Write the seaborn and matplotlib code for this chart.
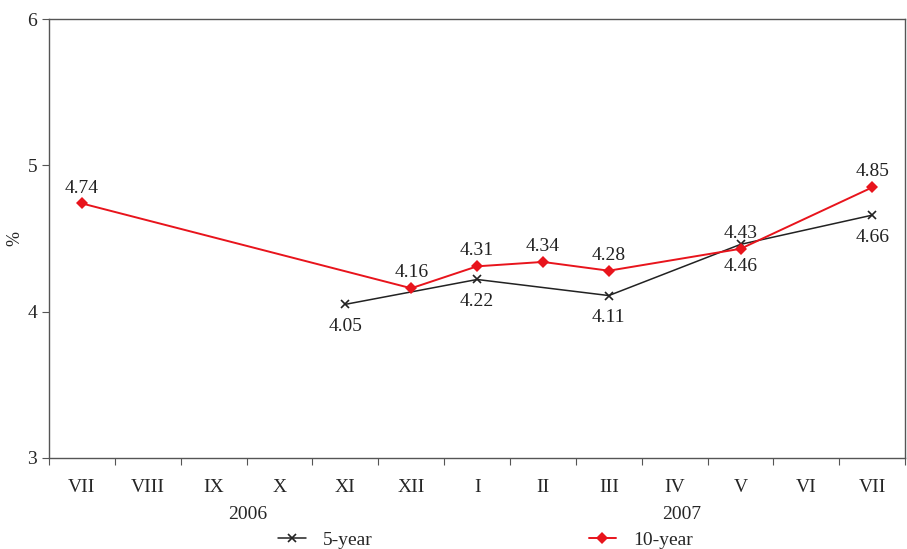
import numpy as np
import pandas as pd
import matplotlib
matplotlib.use("Agg")
import matplotlib.pyplot as plt
import seaborn as sns

# months from VII 2006 to VII 2007
months = ["VII", "VIII", "IX", "X", "XI", "XII", "I", "II", "III", "IV", "V", "VI", "VII"]
five_year = [np.nan, np.nan, np.nan, np.nan, 4.05, np.nan, 4.22, np.nan, 4.11, np.nan, 4.46, np.nan, 4.66]
ten_year = [4.74, np.nan, np.nan, np.nan, np.nan, 4.16, 4.31, 4.34, 4.28, np.nan, 4.43, np.nan, 4.85]
years = ["2006", "2007"]

sns.set_style("white")
plt.rcParams["font.family"] = ["Liberation Serif", "DejaVu Serif"]

df = pd.DataFrame({"pos": np.arange(len(months)), "5-year": five_year, "10-year": ten_year})

fig = plt.figure(figsize=(9.07, 5.49), dpi=100)
ax = fig.add_axes([0.054, 0.166, 0.944, 0.799])

d5 = df.dropna(subset=["5-year"])
d10 = df.dropna(subset=["10-year"])
sns.lineplot(data=d5, x="pos", y="5-year", ax=ax, color="#222222", lw=1.1,
             marker="x", markersize=6, markeredgewidth=1.2, markeredgecolor="#222222",
             label="5-year")
sns.lineplot(data=d10, x="pos", y="10-year", ax=ax, color="#e8141c", lw=1.4,
             marker="D", markersize=6, markeredgewidth=0, markerfacecolor="#e8141c",
             label="10-year")

for x, v in zip(d5["pos"], d5["5-year"]):
    ax.annotate(f"{v:.2f}", (x, v), xytext=(0, -10), textcoords="offset points",
                ha="center", va="top", fontsize=14, color="#222222")
for x, v in zip(d10["pos"], d10["10-year"]):
    ax.annotate(f"{v:.2f}", (x, v), xytext=(0, 5), textcoords="offset points",
                ha="center", va="bottom", fontsize=14, color="#222222")

ax.set_xlim(-0.5, len(months) - 0.5)
ax.set_ylim(3, 6)
ax.set_yticks([3, 4, 5, 6])
ax.set_xticks(np.arange(len(months) + 1) - 0.5)
ax.set_xticklabels([])
ax.set_xticks(np.arange(len(months)), minor=True)
ax.set_xticklabels(months, minor=True)
ax.tick_params(axis="x", which="major", direction="out", length=5, color="#555555", bottom=True)
ax.tick_params(axis="x", which="minor", length=0, pad=15.5, labelsize=14)
ax.tick_params(axis="y", direction="out", length=5, color="#555555", left=True, labelsize=14)
ax.set_xlabel("")
ax.set_ylabel("%", fontsize=13)
ax.yaxis.set_label_coords(-0.03, 0.5)

for s in ax.spines.values():
    s.set_color("#555555")
    s.set_linewidth(1.0)

ax.text(2.52, -0.128, years[0], transform=ax.get_xaxis_transform(), ha="center", va="center", fontsize=14)
ax.text(9.1, -0.128, years[1], transform=ax.get_xaxis_transform(), ha="center", va="center", fontsize=14)

ax.legend(loc="center left", bbox_to_anchor=(0.268, -0.187), ncol=2, frameon=False,
          fontsize=14, columnspacing=11.1, handlelength=1.4, handletextpad=0.9,
          borderpad=0, borderaxespad=0)

fig.savefig("out.png", dpi=100)
